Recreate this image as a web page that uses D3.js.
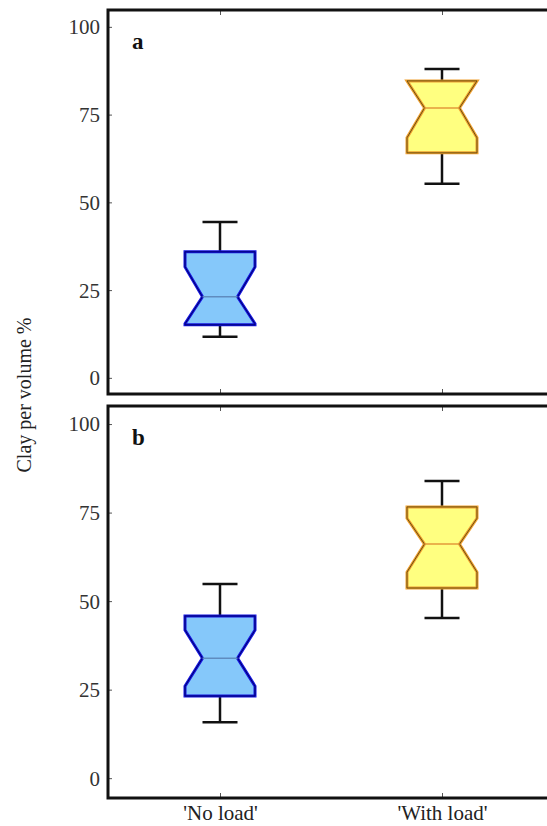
<!DOCTYPE html>
<html>
<head>
<meta charset="utf-8">
<script src="https://cdn.jsdelivr.net/npm/d3@7"></script>
<style>
  html, body { margin: 0; padding: 0; background: #fff; overflow: hidden; }
  svg { display: block; }
  svg text { font-family: "Liberation Serif", "Times New Roman", Times, serif; }
</style>
</head>
<body>
<svg id="chart" width="547" height="826"></svg>
<script>
// ---- data ----
const categories = ["'No load'", "'With load'"];
const panelLabels = ["a", "b"];
const yTicks = [0, 25, 50, 75, 100];
// per panel, per category: [whiskerLow, q1, notchLow, median, notchHigh, q3, whiskerHigh]
const panelA = [
  [11.7, 15.1, 15.4, 23.1, 31.6, 35.9, 44.4],
  [55.3, 64.1, 68.4, 76.9, 84.6, 84.6, 88.0]
];
const panelB = [
  [15.8, 23.2, 26.0, 33.9, 41.8, 45.8, 54.8],
  [45.2, 53.7, 58.2, 66.1, 73.4, 76.6, 83.9]
];
const panels = [panelA, panelB];
const yLabel = "Clay per volume %";

const fills = ["#85c8fa", "#ffff80"];
const outer = ["#1515e0", "#f0a030"];
const inner = ["#00006a", "#6b5010"];
const medCol = ["#5f8cbf", "#e39a3a"];

// ---- layout ----
const FONT = "'Liberation Serif', 'Times New Roman', Times, serif";
const svg = d3.select("#chart");
const frameL = 108, frameR = 554;
const panelGeo = [
  { top: 10, bottom: 394, dom: [-4.6, 104.8] },
  { top: 406, bottom: 798, dom: [-5.6, 105.1] }
];
const x = d3.scalePoint().domain(categories).range([220, 442]);
const boxHalf = 35, notchHalf = 17.5, capHalf = 17.5;

panels.forEach((data, pi) => {
  const g = panelGeo[pi];
  const y = d3.scaleLinear().domain(g.dom).range([g.bottom, g.top]);
  const pg = svg.append("g");

  // left axis ticks (inward) + labels
  const yAxis = d3.axisLeft(y).tickValues(yTicks).tickSize(-4).tickPadding(8).tickFormat(d3.format("d"));
  const ax = pg.append("g").attr("transform", `translate(${frameL},0)`).call(yAxis);
  ax.attr("font-family", FONT);
  ax.select(".domain").remove();
  ax.selectAll(".tick text").attr("font-size", 21).attr("fill", "#333")
    .attr("font-family", FONT).attr("dy", "0.33em");

  // top and bottom ticks
  const axTop = pg.append("g").attr("transform", `translate(0,${g.top})`)
    .call(d3.axisTop(x).tickSize(-5).tickFormat(""));
  axTop.select(".domain").remove();
  const axBot = pg.append("g").attr("transform", `translate(0,${g.bottom})`)
    .call(d3.axisBottom(x).tickSize(-5).tickFormat(pi === 1 ? (d => d) : ""));
  axBot.attr("font-family", FONT);
  axBot.select(".domain").remove();
  pg.selectAll(".tick line").attr("stroke", "#555").attr("stroke-width", 1);
  axBot.selectAll(".tick text").attr("font-size", 21).attr("fill", "#222")
    .attr("font-family", FONT).attr("y", 7).attr("dy", "0.71em");

  // frame
  pg.append("rect").attr("x", frameL).attr("y", g.top)
    .attr("width", frameR - frameL).attr("height", g.bottom - g.top)
    .attr("fill", "none").attr("stroke", "#111").attr("stroke-width", 3);

  // boxes
  data.forEach((d, ci) => {
    const [wl, q1, nl, med, nh, q3, wh] = d;
    const cx = x(categories[ci]);
    const bx = pg.append("g");
    bx.append("line").attr("x1", cx).attr("x2", cx).attr("y1", y(wh)).attr("y2", y(q3))
      .attr("stroke", "#111").attr("stroke-width", 2.5);
    bx.append("line").attr("x1", cx).attr("x2", cx).attr("y1", y(q1)).attr("y2", y(wl))
      .attr("stroke", "#111").attr("stroke-width", 2.5);
    [wl, wh].forEach(v => {
      bx.append("line").attr("x1", cx - capHalf).attr("x2", cx + capHalf)
        .attr("y1", y(v)).attr("y2", y(v)).attr("stroke", "#111").attr("stroke-width", 2.5);
    });
    const pts = [
      [cx - boxHalf, y(q3)], [cx + boxHalf, y(q3)], [cx + boxHalf, y(nh)],
      [cx + notchHalf, y(med)], [cx + boxHalf, y(nl)], [cx + boxHalf, y(q1)],
      [cx - boxHalf, y(q1)], [cx - boxHalf, y(nl)], [cx - notchHalf, y(med)],
      [cx - boxHalf, y(nh)]
    ];
    const line = d3.line().curve(d3.curveLinearClosed);
    bx.append("path").attr("d", line(pts)).attr("fill", fills[ci])
      .attr("stroke", outer[ci]).attr("stroke-width", 3).attr("stroke-linejoin", "miter");
    bx.append("path").attr("d", line(pts)).attr("fill", "none")
      .attr("stroke", inner[ci]).attr("stroke-width", 1).attr("stroke-linejoin", "miter");
    bx.append("line").attr("x1", cx - notchHalf).attr("x2", cx + notchHalf)
      .attr("y1", y(med)).attr("y2", y(med)).attr("stroke", medCol[ci]).attr("stroke-width", 1.5);
  });

  // panel letter
  pg.append("text").attr("x", frameL + 24).attr("y", g.top + 39)
    .attr("font-family", FONT)
    .attr("font-size", 23).attr("font-weight", "bold").attr("fill", "#111")
    .text(panelLabels[pi]);
});

// y axis label
svg.append("text")
  .attr("transform", "translate(31,395) rotate(-90)")
  .attr("text-anchor", "middle")
  .attr("font-family", FONT)
  .attr("font-size", 20).attr("fill", "#222")
  .text(yLabel);
</script>
</body>
</html>
